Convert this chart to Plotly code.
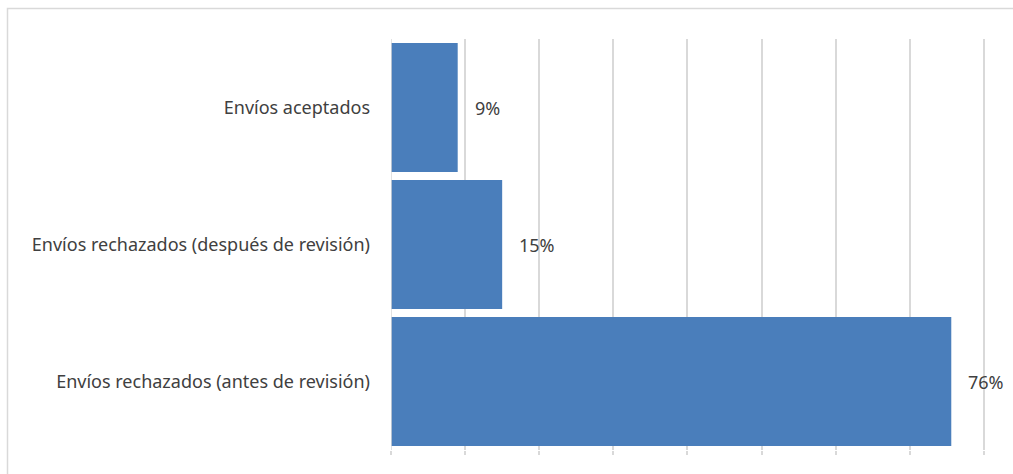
import plotly.graph_objects as go

categories = ["Envíos rechazados (antes de revisión)",
              "Envíos rechazados (después de revisión)",
              "Envíos aceptados"]
values = [75.6, 15, 9]

W, H = 1013, 474
L, R, T, B = 391, 28, 39, 24
pw, ph = W - L - R, H - T - B

fig = go.Figure()
fig.add_trace(go.Bar(
    y=categories, x=values, orientation="h",
    marker=dict(color="#4a7ebb", line=dict(width=0)),
    hoverinfo="skip",
))

for c, v in zip(categories, values):
    fig.add_annotation(x=v, y=c, text=f"{v:.0f}%", showarrow=False, xanchor="left",
                       xshift=15, font=dict(size=18, color="#404040"))

fig.add_shape(type="rect", xref="paper", yref="paper",
              x0=(7.5 - L) / pw, x1=1.2,
              y0=-0.2, y1=1 + (T - 8.5) / ph,
              line=dict(color="#d9d9d9", width=1.5), layer="below")

fig.update_layout(
    width=W, height=H,
    margin=dict(l=L, r=R, t=T, b=B),
    paper_bgcolor="white", plot_bgcolor="white",
    bargap=0.06,
    showlegend=False,
    font=dict(family="Noto Sans, Open Sans, sans-serif", size=18, color="#404040"),
    xaxis=dict(range=[0, 80.15], dtick=10, tick0=0, showgrid=True, gridcolor="#d9d9d9",
               gridwidth=1.5, zeroline=False, showticklabels=False,
               ticks="outside", ticklen=4, tickcolor="#d9d9d9", tickwidth=1.5,
               showline=False, fixedrange=True),
    yaxis=dict(showgrid=False, zeroline=False, showline=False,
               ticks="", ticklabelstandoff=20, fixedrange=True,
               tickfont=dict(size=18, color="#404040")),
)
fig.add_vline(x=0, line=dict(color="#d9d9d9", width=1.5))

fig.write_html("out.html",
               config={"displayModeBar": False},
               post_script="document.body.style.margin='0';document.body.style.overflow='hidden';")
